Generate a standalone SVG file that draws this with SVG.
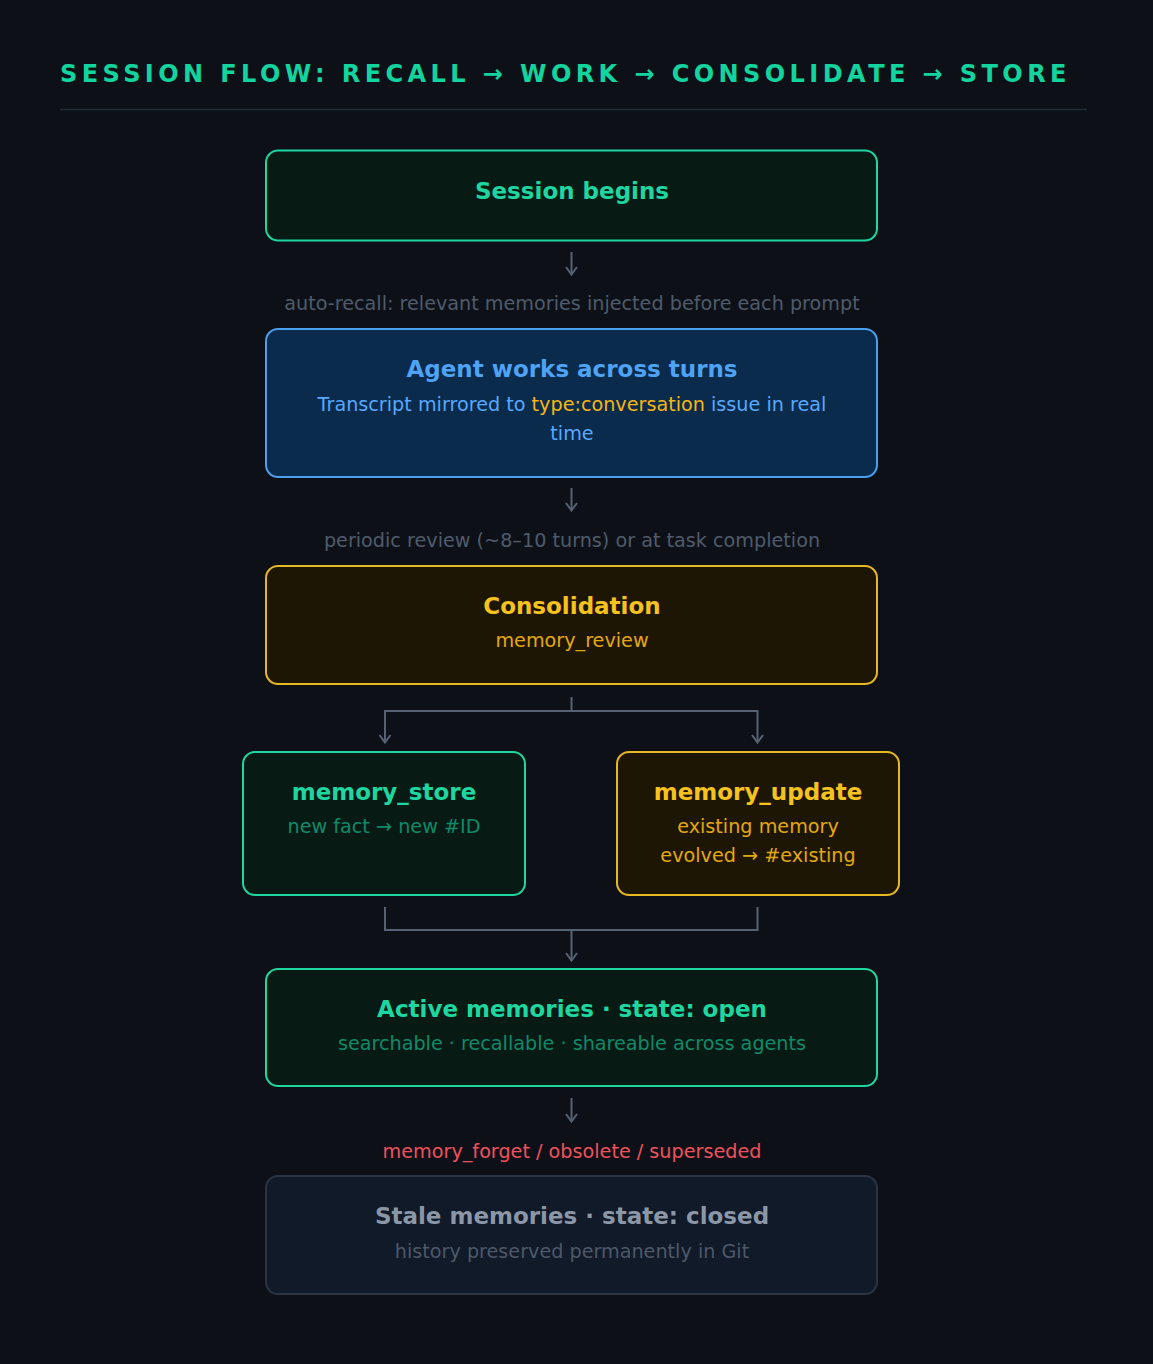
<svg xmlns="http://www.w3.org/2000/svg" width="1153" height="1364" viewBox="0 0 1153 1364">
<defs>
<style>
text{font-family:"DejaVu Sans",Verdana,sans-serif;text-anchor:middle}
.t{font-weight:bold;font-size:23px}
.s{font-size:19.2px}
.lbl{font-size:19.2px;fill:#4f5b6c}
.box{stroke-width:2}
.g{fill:#071a14;stroke:#1ed6a0}
.b{fill:#0b2b4c;stroke:#4a9ff0}
.a{fill:#1e1604;stroke:#e8b820}
.x{fill:#111a28;stroke:#2a3445}
.con{fill:none;stroke:#566274;stroke-width:2}
</style>
</defs>
<rect width="1153" height="1364" fill="#0d1117"/>
<text x="60" y="82" style="text-anchor:start;font-weight:bold;font-size:24px;letter-spacing:4.42px" fill="#12d49e">SESSION FLOW: RECALL → WORK → CONSOLIDATE → STORE</text>
<line x1="60" y1="109.5" x2="1087" y2="109.5" stroke="#222a35" stroke-width="1.5"/>

<g id="connectors">
<path class="con" d="M571.5 252 V274"/>
<polyline class="con" points="566,267 571.5,274.5 577,267"/>
<path class="con" d="M571.5 488 V510"/>
<polyline class="con" points="566,503 571.5,510.5 577,503"/>
<path class="con" d="M571.5 697 V711 M385 742 V711 H757.5 V742"/>
<polyline class="con" points="379.5,735 385,742.5 390.5,735"/>
<polyline class="con" points="752,735 757.5,742.5 763,735"/>
<path class="con" d="M385 907 V930 H757.5 V907 M571.5 930 V960"/>
<polyline class="con" points="566,953 571.5,960.5 577,953"/>
<path class="con" d="M571.5 1098 V1121"/>
<polyline class="con" points="566,1114 571.5,1121.5 577,1114"/>
<text class="lbl" x="572" y="310">auto-recall: relevant memories injected before each prompt</text>
<text class="lbl" x="572" y="547">periodic review (~8–10 turns) or at task completion</text>
<text class="s" x="572" y="1158" fill="#f0505c">memory_forget / obsolete / superseded</text>
</g>

<g id="session-begins">
<rect class="box g" x="266" y="150.5" width="611" height="90" rx="12"/>
<text class="t" x="572" y="199" fill="#1ed6a0">Session begins</text>
</g>

<g id="agent-works">
<rect class="box b" x="266" y="329" width="611" height="148" rx="12"/>
<text class="t" x="572" y="377" fill="#4ea3f5">Agent works across turns</text>
<text class="s" x="572" y="411" fill="#58a8ff">Transcript mirrored to <tspan fill="#f5b514">type:conversation</tspan> issue in real</text>
<text class="s" x="572" y="440" fill="#58a8ff">time</text>
</g>

<g id="consolidation">
<rect class="box a" x="266" y="566" width="611" height="118" rx="12"/>
<text class="t" x="572" y="614" fill="#f5c21e">Consolidation</text>
<text class="s" x="572" y="647" fill="#e2a810">memory_review</text>
</g>

<g id="memory-store">
<rect class="box g" x="243" y="752" width="282" height="143" rx="12"/>
<text class="t" x="384" y="800" fill="#1ed6a0">memory_store</text>
<text class="s" x="384" y="833" fill="#0f8a68">new fact → new #ID</text>
</g>

<g id="memory-update">
<rect class="box a" x="617" y="752" width="282" height="143" rx="12"/>
<text class="t" x="758" y="800" fill="#f5c21e">memory_update</text>
<text class="s" x="758" y="833" fill="#e2a810">existing memory</text>
<text class="s" x="758" y="862" fill="#e2a810">evolved → #existing</text>
</g>

<g id="active-memories">
<rect class="box g" x="266" y="969" width="611" height="117" rx="12"/>
<text class="t" x="572" y="1017" fill="#1ed6a0">Active memories · state: open</text>
<text class="s" x="572" y="1050" fill="#0f8a68">searchable · recallable · shareable across agents</text>
</g>

<g id="stale-memories">
<rect class="box x" x="266" y="1176" width="611" height="118" rx="12"/>
<text class="t" x="572" y="1224" fill="#8b96a6">Stale memories · state: closed</text>
<text class="s" x="572" y="1258" fill="#4d5868">history preserved permanently in Git</text>
</g>
</svg>
